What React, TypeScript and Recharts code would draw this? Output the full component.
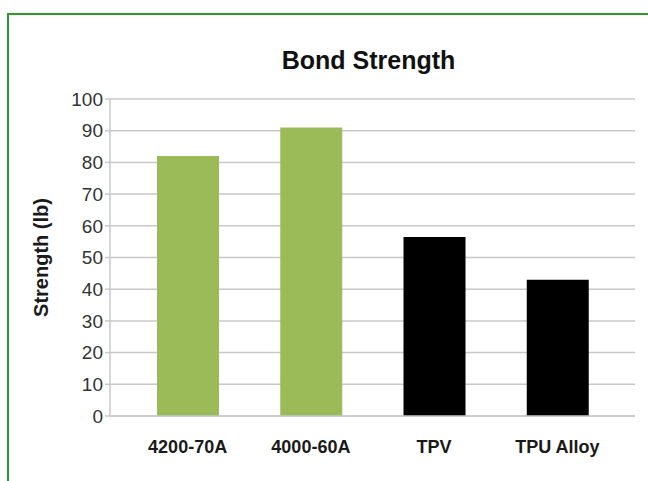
import { BarChart, Bar, XAxis, YAxis, CartesianGrid, Cell } from 'recharts'

const categories = ['4200-70A', '4000-60A', 'TPV', 'TPU Alloy']
const strengths = [82, 91, 56.5, 43]
const barColors = ['#9bbb59', '#9bbb59', '#000000', '#000000']
const yTicks = [0, 10, 20, 30, 40, 50, 60, 70, 80, 90, 100]

const data = categories.map((name, i) => ({ name, strength: strengths[i] }))

const font = '"Liberation Sans", Arial, Helvetica, sans-serif'
const gridColor = '#c8c8c8'

export default function App() {
  return (
    <div
      style={{
        position: 'fixed',
        top: 0,
        left: 0,
        width: 648,
        height: 481,
        background: '#ffffff',
        overflow: 'hidden',
        fontFamily: font
      }}
    >
      {/* green frame, runs off the right and bottom edges */}
      <div
        style={{
          position: 'absolute',
          left: 7,
          top: 13,
          width: 660,
          height: 500,
          border: '2px solid #2e9a2e',
          boxSizing: 'border-box'
        }}
      />
      <div
        style={{
          position: 'absolute',
          top: 45,
          left: 0,
          width: 737,
          textAlign: 'center',
          fontSize: 25,
          fontWeight: 'bold',
          color: '#111111',
          lineHeight: '30px'
        }}
      >
        Bond Strength
      </div>
      <div style={{ position: 'absolute', top: 0, left: 0 }}>
        <BarChart
          width={648}
          height={481}
          data={data}
          margin={{ top: 99, right: 13, bottom: 25, left: 10 }}
        >
          <CartesianGrid vertical={false} stroke={gridColor} strokeWidth={1.5} />
          <XAxis
            dataKey="name"
            height={40}
            padding={{ left: 16, right: 16 }}
            axisLine={{ stroke: gridColor, strokeWidth: 1.5 }}
            tickLine={false}
            tickMargin={18}
            tick={{ fill: '#1a1a1a', fontSize: 18, fontWeight: 'bold', fontFamily: font }}
          />
          <YAxis
            width={100}
            domain={[0, 100]}
            ticks={yTicks}
            interval={0}
            axisLine={{ stroke: gridColor, strokeWidth: 1.5 }}
            tickLine={{ stroke: gridColor, strokeWidth: 1.5 }}
            tickSize={5}
            tickMargin={2}
            tick={{ fill: '#333333', fontSize: 19, fontFamily: font }}
            label={{
              value: 'Strength (lb)',
              angle: -90,
              position: 'insideLeft',
              offset: 31,
              style: { textAnchor: 'middle', fill: '#1a1a1a', fontSize: 20, fontWeight: 'bold', fontFamily: font }
            }}
          />
          <Bar dataKey="strength" barSize={62} isAnimationActive={false}>
            {data.map((d, i) => (
              <Cell key={d.name} fill={barColors[i]} />
            ))}
          </Bar>
        </BarChart>
      </div>
    </div>
  )
}
